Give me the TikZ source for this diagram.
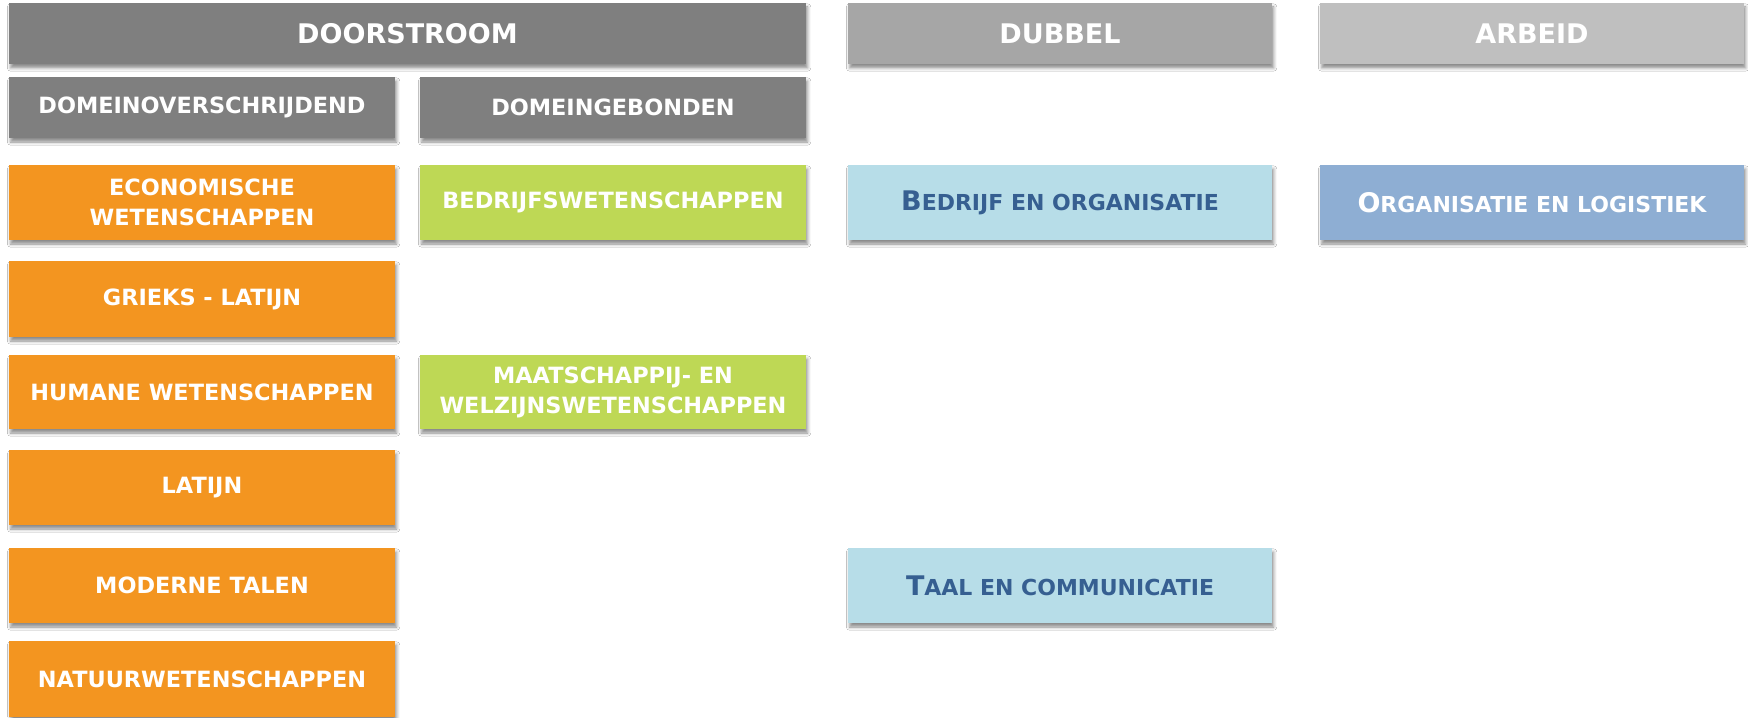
\documentclass[tikz,border=0pt]{standalone}
\usepackage{fontspec}
\setmainfont{DejaVu Sans}
\usetikzlibrary{shadows.blur}
\definecolor{dgrey}{HTML}{7F7F7F}
\definecolor{mgrey}{HTML}{A6A6A6}
\definecolor{lgrey}{HTML}{BFBFBF}
\definecolor{orng}{HTML}{F39520}
\definecolor{grn}{HTML}{BED855}
\definecolor{lblue}{HTML}{B7DDE8}
\definecolor{sblue}{HTML}{8EAED3}
\definecolor{dblue}{HTML}{365F91}
\tikzset{
  base/.style={inner sep=0pt, outer sep=0pt, align=center, text=white,
    font=\bfseries\fontsize{11.2}{15}\selectfont,
    blur shadow={shadow xshift=0.8pt, shadow yshift=-2pt, shadow blur radius=1.6pt, shadow opacity=45}},
  titlebox/.style={base, font=\bfseries\fontsize{13.5}{16}\selectfont},
  darkbox/.style={base, fill=dgrey},
  orangebox/.style={base, fill=orng},
  greenbox/.style={base, fill=grn},
  lbluebox/.style={base, fill=lblue, text=dblue},
  sbluebox/.style={base, fill=sblue},
}
\newcommand\ksc[2]{{\fontsize{13.5}{16}\selectfont #1}{\fontsize{11}{15}\selectfont #2}}
\newcommand\mybox[7]{\node[#6, minimum width={(#3-#2)*0.5pt}, minimum height={(#5-#4)*0.5pt}] (#1) at ({(#2+#3)/2},{(#4+#5)/2}) {#7};}
\begin{document}
\begin{tikzpicture}[x=0.5pt,y=-0.5pt]
\useasboundingbox[fill=white] (0,0) rectangle (1748,717);
% headers
\mybox{door}{9}{806}{3}{64}{titlebox,fill=dgrey}{DOORSTROOM}
\mybox{dub}{848}{1272}{3}{64}{titlebox,fill=mgrey}{DUBBEL}
\mybox{arb}{1320}{1744}{3}{64}{titlebox,fill=lgrey}{ARBEID}
\mybox{over}{9}{395}{77}{138}{darkbox}{DOMEINOVERSCHRIJDEND}
\mybox{geb}{420}{806}{77}{138}{darkbox}{DOMEINGEBONDEN}
% column A
\mybox{eco}{9}{395}{165}{240}{orangebox}{ECONOMISCHE\\WETENSCHAPPEN}
\mybox{grl}{9}{395}{261}{337}{orangebox}{GRIEKS - LATIJN}
\mybox{hum}{9}{395}{355}{429}{orangebox}{HUMANE WETENSCHAPPEN}
\mybox{lat}{9}{395}{450}{525}{orangebox}{LATIJN}
\mybox{mod}{9}{395}{548}{623}{orangebox}{MODERNE TALEN}
\mybox{nat}{9}{395}{641}{717}{orangebox}{NATUURWETENSCHAPPEN}
% column B
\mybox{bedw}{420}{806}{165}{240}{greenbox}{BEDRIJFSWETENSCHAPPEN}
\mybox{maat}{420}{806}{355}{429}{greenbox}{MAATSCHAPPIJ- EN\\WELZIJNSWETENSCHAPPEN}
% column C
\mybox{bedo}{848}{1272}{165}{240}{lbluebox}{\ksc{B}{EDRIJF EN ORGANISATIE}}
\mybox{taal}{848}{1272}{548}{623}{lbluebox}{\ksc{T}{AAL EN COMMUNICATIE}}
% column D
\mybox{orgl}{1320}{1744}{165}{240}{sbluebox}{\ksc{O}{RGANISATIE EN LOGISTIEK}}
\end{tikzpicture}
\end{document}
